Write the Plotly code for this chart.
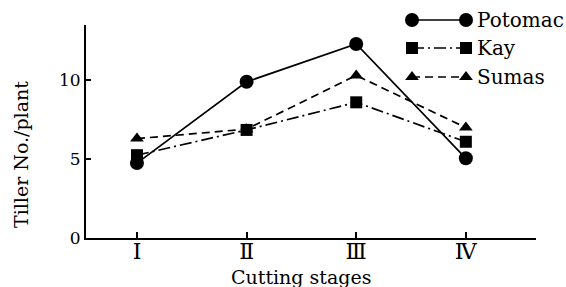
import plotly.graph_objects as go

stages = [1, 2, 3, 4]
stage_labels = ["Ⅰ", "Ⅱ", "Ⅲ", "Ⅳ"]
potomac = [4.75, 9.9, 12.3, 5.05]
kay = [5.25, 6.85, 8.6, 6.1]
sumas = [6.3, 6.9, 10.3, 7.0]
series_names = ["Potomac", "Kay", "Sumas"]

W, H = 566, 287
BOTTOM = 49
PH = H - BOTTOM  # plot area height (top margin 0)
AX_L, AX_R, AX_T = 86, 536, 25

FONT = "DejaVu Serif"
BLACK = "#000000"

styles = [
    dict(symbol="circle", size=14, dash="solid"),
    dict(symbol="square", size=12, dash="12px,4px,2px,4px"),
    dict(symbol="triangle-up", size=12, dash="8px,5px"),
]

fig = go.Figure()
for name, vals, st in zip(series_names, [potomac, kay, sumas], styles):
    fig.add_trace(go.Scatter(
        x=stages, y=vals, mode="lines+markers", name=name,
        line=dict(color=BLACK, width=1.7, dash=st["dash"]),
        marker=dict(symbol=st["symbol"], size=st["size"], color=BLACK),
        showlegend=False, xaxis="x", yaxis="y",
    ))

# custom legend on a hidden pixel-space axis pair covering the whole plot area
leg_rows = [20, 48, 77]
leg_x0, leg_x1, leg_tx = 412, 466, 475
for name, st, ry in zip(series_names, styles, leg_rows):
    fig.add_trace(go.Scatter(
        x=[leg_x0, leg_x1], y=[ry, ry], mode="lines+markers",
        line=dict(color=BLACK, width=1.7, dash=st["dash"]),
        marker=dict(symbol=st["symbol"], size=st["size"], color=BLACK),
        showlegend=False, xaxis="x2", yaxis="y2", hoverinfo="skip",
    ))
    fig.add_annotation(x=leg_tx, y=ry, xref="x2", yref="y2", text=name,
                       showarrow=False, xanchor="left", yanchor="middle",
                       font=dict(family=FONT, size=20, color=BLACK))

fig.add_annotation(x=(AX_L + AX_R) / 2 / W - 10 / W, y=1 - 277 / PH,
                   xref="paper", yref="paper",
                   text="Cutting stages", showarrow=False,
                   xanchor="center", yanchor="middle",
                   font=dict(family=FONT, size=19, color=BLACK))
fig.add_annotation(x=21 / W, y=1 - 155 / PH, xref="paper", yref="paper",
                   text="Tiller No./plant", showarrow=False, textangle=-90,
                   xanchor="center", yanchor="middle",
                   font=dict(family=FONT, size=19, color=BLACK))

fig.update_layout(
    width=W, height=H,
    margin=dict(l=0, r=0, t=0, b=BOTTOM, pad=0),
    paper_bgcolor="white", plot_bgcolor="rgba(0,0,0,0)",
    font=dict(family=FONT, color=BLACK),
    xaxis=dict(
        domain=[AX_L / W, AX_R / W], range=[0.535, 4.64],
        tickmode="array", tickvals=stages, ticktext=stage_labels,
        ticks="inside", ticklen=6, tickwidth=1.5, tickcolor=BLACK,
        showline=True, linecolor=BLACK, linewidth=1.8,
        showgrid=False, zeroline=False, anchor="y",
        ticklabelstandoff=-7,
        tickfont=dict(family=FONT, size=22, color=BLACK),
    ),
    yaxis=dict(
        domain=[0, (PH - AX_T) / PH], range=[0, 13.5],
        tickmode="array", tickvals=[0, 5, 10],
        ticks="inside", ticklen=5, tickwidth=1.5, tickcolor=BLACK,
        showline=True, linecolor=BLACK, linewidth=1.8,
        showgrid=False, zeroline=False, anchor="x",
        tickfont=dict(family=FONT, size=17, color=BLACK),
    ),
    xaxis2=dict(domain=[0, 1], range=[0, W], visible=False, anchor="y2",
                fixedrange=True),
    yaxis2=dict(domain=[0, 1], range=[PH, 0], visible=False, anchor="x2",
                fixedrange=True),
)

fig.write_html("out.html", config={"displayModeBar": False},
               post_script="document.body.style.margin='0';"
                           "document.body.style.padding='0';")
